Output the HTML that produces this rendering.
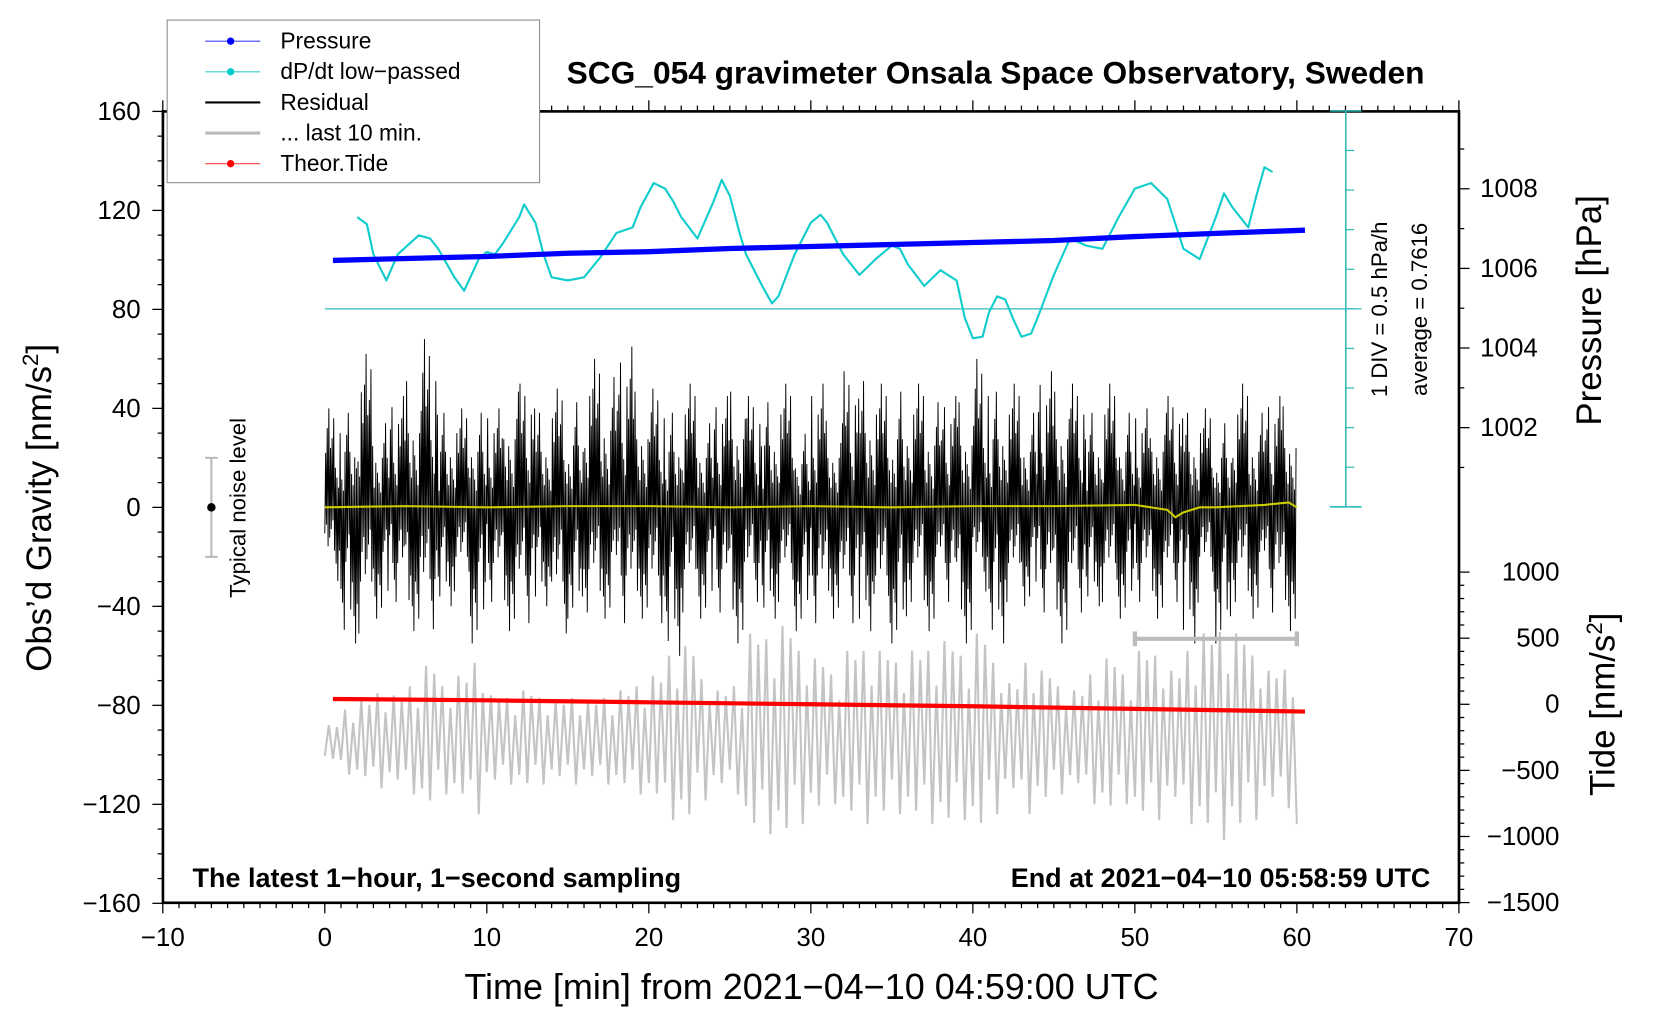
<!DOCTYPE html>
<html><head><meta charset="utf-8"><style>
html,body{margin:0;padding:0;background:#fff;}
svg{display:block;font-family:"Liberation Sans",Arial,sans-serif;}
</style></head><body>
<svg id="chart" width="1660" height="1020" viewBox="-1 -2 1569 966" preserveAspectRatio="none" xmlns="http://www.w3.org/2000/svg">
<g id="marks"></g>
<g id="axes"></g>
<text x="940" y="77" text-anchor="middle" font-size="30" font-weight="bold">SCG_054 gravimeter Onsala Space Observatory, Sweden</text>
<text x="181" y="838" font-size="25.5" font-weight="bold">The latest 1−hour, 1−second sampling</text>
<text x="1351" y="838" text-anchor="end" font-size="25.5" font-weight="bold">End at 2021−04−10 05:58:59 UTC</text>
<text x="766" y="944" text-anchor="middle" font-size="34">Time [min] from 2021−04−10 04:59:00 UTC</text>
<text transform="translate(47,479) rotate(-90)" text-anchor="middle" font-size="33">Obs’d Gravity [nm/s<tspan dy="-12" font-size="21">2</tspan><tspan dy="12">]</tspan></text>
<text transform="translate(1512,292) rotate(-90)" text-anchor="middle" font-size="33">Pressure [hPa]</text>
<text transform="translate(1525,665) rotate(-90)" text-anchor="middle" font-size="33">Tide [nm/s<tspan dy="-12" font-size="21">2</tspan><tspan dy="12">]</tspan></text>
<text transform="translate(1310,291) rotate(-90)" text-anchor="middle" font-size="21">1 DIV = 0.5 hPa/h</text>
<text transform="translate(1348,291) rotate(-90)" text-anchor="middle" font-size="21">average = 0.7616</text>
<text transform="translate(231,479) rotate(-90)" text-anchor="middle" font-size="21">Typical noise level</text>
<g>
<rect x="157" y="17" width="352" height="154" fill="#fff" stroke="#888" stroke-width="1"/>
<g><line x1="193" y1="37" x2="245" y2="37" stroke="#44f" stroke-width="1"/><circle cx="217" cy="37" r="3.5" fill="#00f"/><text x="264" y="44" font-size="21.5">Pressure</text></g>
<g><line x1="193" y1="66" x2="245" y2="66" stroke="#3cc" stroke-width="1"/><circle cx="217" cy="66" r="3.5" fill="#0cc"/><text x="264" y="73" font-size="21.5">dP/dt low−passed</text></g>
<g><line x1="193" y1="95" x2="245" y2="95" stroke="#000" stroke-width="2"/><text x="264" y="102" font-size="21.5">Residual</text></g>
<g><line x1="193" y1="124" x2="245" y2="124" stroke="#bbb" stroke-width="3"/><text x="264" y="131" font-size="21.5">... last 10 min.</text></g>
<g><line x1="193" y1="153" x2="245" y2="153" stroke="#f44" stroke-width="1"/><circle cx="217" cy="153" r="3.5" fill="#f00"/><text x="264" y="160" font-size="21.5">Theor.Tide</text></g>
</g>
</svg>
<script>
// ---- data ----
const residHi=[40,45,62,40,45,60,68,45,40,45,40,55,50,45,48,50,60,62,65,55,48,45,50,40,45,55,45,50,50,35,50,40,55,60,50,55,50,50,45,50,60,55,50,45,55,55,50,45,50,45,40,45,45,45,40,40,50,45,45,48,30];
const residLo=[-35,-55,-60,-45,-45,-50,-58,-40,-40,-55,-45,-50,-55,-40,-60,-45,-50,-45,-55,-45,-55,-60,-50,-45,-50,-55,-45,-45,-45,-50,-55,-45,-55,-50,-55,-55,-45,-50,-45,-55,-40,-55,-45,-40,-50,-55,-50,-40,-45,-45,-45,-45,-45,-55,-40,-55,-45,-45,-50,-50,-35];
const grayAmp=[8,15,18,22,20,25,32,25,28,35,20,20,22,20,18,20,18,20,22,25,28,38,40,28,22,25,45,45,48,40,35,30,38,40,38,35,38,40,42,38,45,35,25,35,30,25,22,30,35,30,38,38,30,40,45,48,45,38,30,32,20];
const grayCenter=-96;
const dpdtT=[2,2.6,3,3.8,4.5,5.8,6.5,7,8,8.6,9.5,10,10.5,11,12,12.3,13,13.5,14,15,16,17,18,19,19.5,20.3,21,21.5,22,23,24,24.5,25,25.6,26,27,27.6,28,29,30,30.6,31,32,33,34,35,35.5,36,37,38,39,39.5,40,40.6,41,41.5,42,42.5,43,43.6,44,45,46,47,48,49,50,51,52,53,54,55,55.5,56,57,57.5,58,58.5];
const dpdtV=[1.92,1.83,1.45,1.12,1.45,1.69,1.65,1.52,1.16,0.99,1.39,1.48,1.45,1.59,1.92,2.08,1.85,1.45,1.16,1.12,1.16,1.41,1.72,1.79,2.05,2.35,2.28,2.12,1.92,1.65,2.12,2.39,2.19,1.72,1.45,1.05,0.83,0.92,1.45,1.85,1.95,1.85,1.45,1.19,1.39,1.56,1.52,1.32,1.05,1.25,1.12,0.65,0.39,0.41,0.72,0.92,0.88,0.63,0.41,0.45,0.65,1.19,1.65,1.56,1.52,1.92,2.28,2.35,2.15,1.52,1.39,1.92,2.22,2.05,1.79,2.19,2.55,2.49];
const presT=[0.5,5,10,15,20,25,30,35,40,45,50,55,60.5];
const presV=[1006.2,1006.25,1006.3,1006.38,1006.42,1006.5,1006.55,1006.6,1006.65,1006.7,1006.8,1006.88,1006.96];
const tideT=[0.5,10,20,30,40,50,60.5];
const tideV=[40,30,15,0,-15,-35,-55];
const yelT=[0,5,10,15,20,25,30,35,40,45,50,51,52,52.5,53,54,55,58,59.5,60];
const yelV=[0,0.5,0,0.5,0.5,0,0.5,0,0.5,0.5,1,0,-1,-4,-2,0,0,1,2,0];
const xTicks=[-10,0,10,20,30,40,50,60,70];
const yTicks=[-160,-120,-80,-40,0,40,80,120,160];
const pTicks=[1002,1004,1006,1008];
const tTicks=[-1500,-1000,-500,0,500,1000];
// ---- scales (display coords) ----
const X=t=>306+(t)*15.313;
const Y=v=>478.5-v*2.3437;
const P=p=>403-(p-1002)*37.7;
const D=v=>290.5-(v-0.7616)/0.5*37.5;
const T=v=>665-v*0.1252;
const NS="http://www.w3.org/2000/svg";
const marks=document.getElementById('marks'), axes=document.getElementById('axes');
function mk(tag,attrs,parent){const e=document.createElementNS(NS,tag);for(const k in attrs)e.setAttribute(k,attrs[k]);(parent||marks).appendChild(e);return e;}
// gray last-10-min
const fac=[0.55,1,0.7,0.9,0.4,0.95,0.8,0.6];
let g=[];for(let m=0;m<60;m++){for(let k=0;k<4;k++){const t=m+k*0.25;const s=(k%2?1:-1);g.push(X(t).toFixed(1)+','+Y(grayCenter+s*grayAmp[m]*fac[(m*4+k)%8]).toFixed(1));}}
g.push(X(60)+','+Y(grayCenter-grayAmp[60]*1.6));
let el=mk('polyline',{points:g.join(' '),fill:'none',stroke:'#c4c4c4','stroke-width':2});


// residual
const rf=[0.3,0.55,0.2,0.8,0.45,1,0.35,0.6,0.25,0.7,0.15,0.9,0.5,0.4,0.65,0.3,0.85,0.2,0.5,0.75];
let r=[];for(let m=0;m<60;m++){const n=20;for(let k=0;k<n;k++){const t=m+k/n;const v=(k%2?residHi[m]:residLo[m])*rf[(k+m*7)%rf.length];r.push(X(t).toFixed(1)+','+Y(v).toFixed(1));}}
el=mk('polyline',{points:r.join(' '),fill:'none',stroke:'#000','stroke-width':0.9});


// yellow
el=mk('polyline',{points:yelT.map((t,i)=>X(t)+','+Y(yelV[i])).join(' '),fill:'none',stroke:'#cc0','stroke-width':2});


// tide
el=mk('polyline',{points:tideT.map((t,i)=>X(t)+','+T(tideV[i])).join(' '),fill:'none',stroke:'#f00','stroke-width':4});


// average line & dpdt
el=mk('line',{x1:X(0),x2:1286,y1:D(0.7616),y2:D(0.7616),stroke:'#3bb','stroke-width':1.2});


el=mk('polyline',{points:dpdtT.map((t,i)=>X(t)+','+D(dpdtV[i])).join(' '),fill:'none',stroke:'#1cc','stroke-width':2,'stroke-linejoin':'round'});


// pressure
el=mk('polyline',{points:presT.map((t,i)=>X(t)+','+P(presV[i])).join(' '),fill:'none',stroke:'#00f','stroke-width':5});


// noise bar
el=mk('g',{stroke:'#bbb','stroke-width':2});


mk('line',{x1:X(-7),x2:X(-7),y1:Y(20),y2:Y(-20)},el);mk('line',{x1:X(-7)-6,x2:X(-7)+6,y1:Y(20),y2:Y(20)},el);mk('line',{x1:X(-7)-6,x2:X(-7)+6,y1:Y(-20),y2:Y(-20)},el);
mk('circle',{cx:X(-7),cy:Y(0),r:4,fill:'#000',stroke:'none'},el);
// last 10 min bar
el=mk('g',{stroke:'#bbb','stroke-width':4});


mk('line',{x1:X(50),x2:X(60),y1:603,y2:603},el);mk('line',{x1:X(50),x2:X(50),y1:596,y2:610},el);mk('line',{x1:X(60),x2:X(60),y1:596,y2:610},el);
// frame
mk('rect',{x:153,y:103.5,width:1225,height:749.5,fill:'none',stroke:'#000','stroke-width':2.5},axes);
// x ticks
for(let t=-10;t<=70;t++){const L=(t%10===0)?10:5;mk('line',{x1:X(t),x2:X(t),y1:853,y2:853+L,stroke:'#000','stroke-width':1.2},axes);mk('line',{x1:X(t),x2:X(t),y1:103,y2:103-L,stroke:'#000','stroke-width':1.2},axes);}
xTicks.forEach(t=>{const e=mk('text',{x:X(t),y:894,'text-anchor':'middle','font-size':24.5},axes);e.textContent=String(t).replace('-','−');

});
for(let v=-160;v<=160;v+=10){const L=(v%40===0)?10:5;mk('line',{x1:153,x2:153-L,y1:Y(v),y2:Y(v),stroke:'#000','stroke-width':1.2},axes);}
yTicks.forEach(v=>{const e=mk('text',{x:132,y:Y(v)+8,'text-anchor':'end','font-size':24.5},axes);e.textContent=String(v).replace('-','−');

});
// pressure axis
for(let p=1001;p<=1009;p++){const y=P(p);if(y<104||y>478)continue;mk('line',{x1:1378,x2:1378+(p%2===0?10:5),y1:y,y2:y,stroke:'#000','stroke-width':1.2},axes);}
pTicks.forEach(p=>{const e=mk('text',{x:1398,y:P(p)+8,'font-size':24.5},axes);e.textContent=p;

});
// tide axis
for(let v=-1500;v<=1000;v+=100){mk('line',{x1:1378,x2:1378+(v%500===0?10:5),y1:T(v),y2:T(v),stroke:'#000','stroke-width':1.2},axes);}
tTicks.forEach(v=>{const e=mk('text',{x:1473,y:T(v)+8,'text-anchor':'end','font-size':24.5},axes);e.textContent=String(v).replace('-','−');

});
// dpdt div axis
mk('line',{x1:1271,x2:1271,y1:103,y2:478,stroke:'#3bb','stroke-width':1.5},axes);
mk('line',{x1:1256,x2:1286,y1:103,y2:103,stroke:'#3bb','stroke-width':1.5},axes);
mk('line',{x1:1256,x2:1286,y1:478,y2:478,stroke:'#3bb','stroke-width':1.5},axes);
for(let i=1;i<10;i++){const y=478-i*37.5;mk('line',{x1:1271,x2:1279,y1:y,y2:y,stroke:'#3bb','stroke-width':1.2},axes);}
</script>
</body></html>
